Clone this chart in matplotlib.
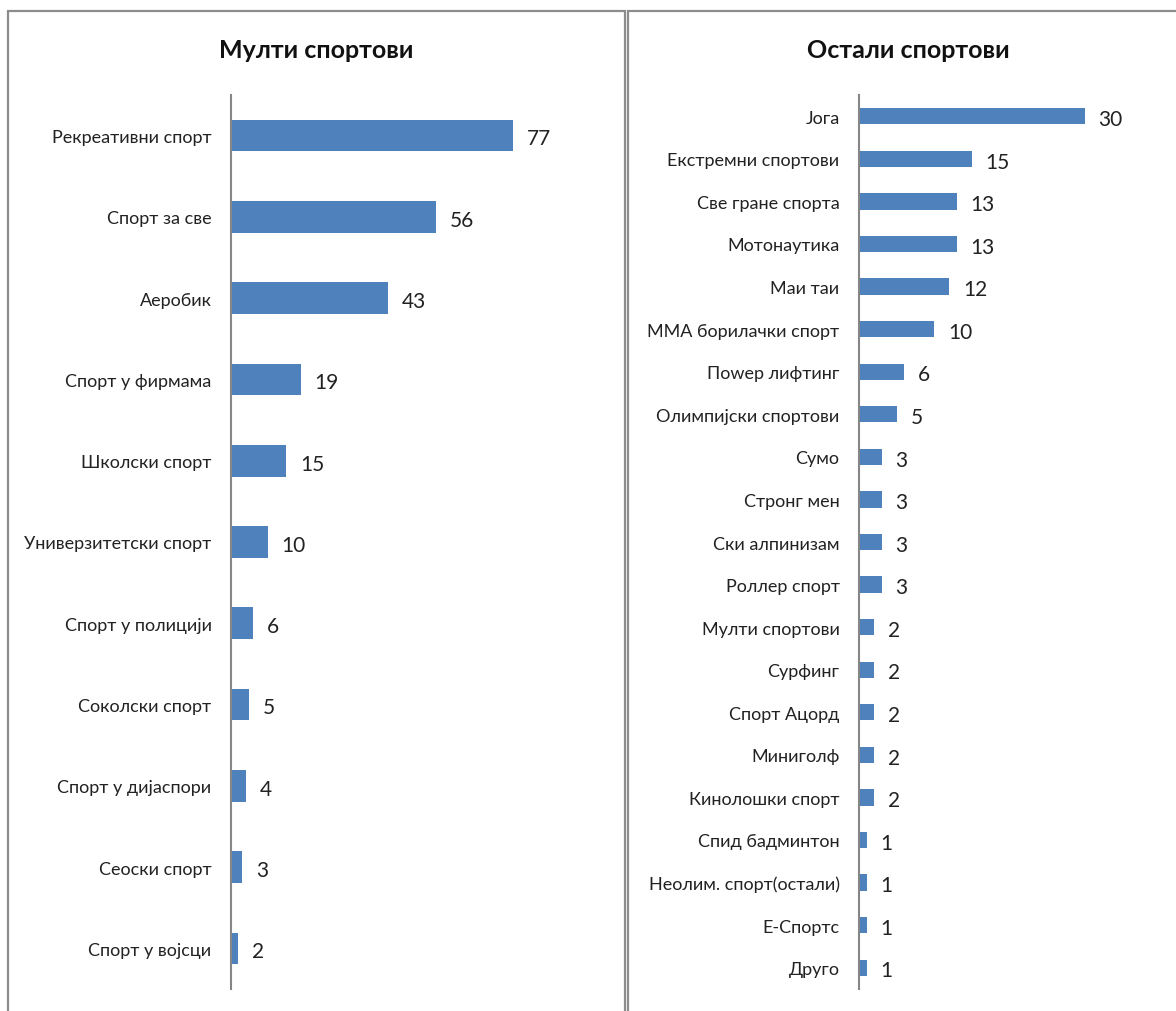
import matplotlib
matplotlib.use('Agg')
import matplotlib.pyplot as plt
from matplotlib.patches import Rectangle

plt.rcParams['font.family'] = ['Lato', 'DejaVu Sans']

# Left panel data
multi_labels = ['Рекреативни спорт', 'Спорт за све', 'Аеробик', 'Спорт у фирмама',
                'Школски спорт', 'Универзитетски спорт', 'Спорт у полицији',
                'Соколски спорт', 'Спорт у дијаспори', 'Сеоски спорт', 'Спорт у војсци']
multi_values = [77, 56, 43, 19, 15, 10, 6, 5, 4, 3, 2]

# Right panel data
other_labels = ['Јога', 'Екстремни спортови', 'Све гране спорта', 'Мотонаутика', 'Маи таи',
                'ММА борилачки спорт', 'Поwер лифтинг', 'Олимпијски спортови', 'Сумо',
                'Стронг мен', 'Ски алпинизам', 'Роллер спорт', 'Мулти спортови', 'Сурфинг',
                'Спорт Ацорд', 'Миниголф', 'Кинолошки спорт', 'Спид бадминтон',
                'Неолим. спорт(остали)', 'Е-Спортс', 'Друго']
other_values = [30, 15, 13, 13, 12, 10, 6, 5, 3, 3, 3, 3, 2, 2, 2, 2, 2, 1, 1, 1, 1]

BAR_COLOR = '#4F81BD'
AXIS_COLOR = '#868686'
W, H = 1176, 1012

fig = plt.figure(figsize=(W / 100, H / 100), dpi=100)

# panel borders
fig.patches.append(Rectangle((8 / W, -0.05), (625 - 8) / W, 1.05 - 12 / H,
                             transform=fig.transFigure, fill=False,
                             edgecolor='#8c8c8c', lw=1.6))
fig.patches.append(Rectangle((628 / W, -0.05), 0.5, 1.05 - 12 / H,
                             transform=fig.transFigure, fill=False,
                             edgecolor='#8c8c8c', lw=1.6))


def draw_panel(rect, labels, values, xmax, bar_h, title, title_x):
    ax = fig.add_axes(rect)
    y = list(range(len(values)))
    ax.barh(y, values, height=bar_h, color=BAR_COLOR)
    ax.set_ylim(len(values) - 0.5, -0.5)
    ax.set_xlim(0, xmax)
    ax.set_yticks(y)
    ax.set_yticklabels(labels, fontsize=13, color='#222222')
    ax.tick_params(axis='y', length=0, pad=14)
    ax.set_xticks([])
    for s in ['top', 'right', 'bottom']:
        ax.spines[s].set_visible(False)
    ax.spines['left'].set_color(AXIS_COLOR)
    ax.spines['left'].set_linewidth(1.5)
    for yi, v in zip(y, values):
        ax.annotate(str(v), (v, yi), xytext=(10, -2), textcoords='offset points',
                    va='center', ha='left', fontsize=15, color='#222222')
    fig.text(title_x / W, 1 - 50 / H, title, ha='center', va='center',
             fontsize=18, fontweight='bold', color='#111111')
    return ax


draw_panel([231 / W, 22 / H, (597 - 231) / W, 894 / H], multi_labels, multi_values,
           100, 0.39, 'Мулти спортови', 316)
draw_panel([859 / W, 22 / H, (1160 - 859) / W, 894 / H], other_labels, other_values,
           40, 0.38, 'Остали спортови', 908)

fig.savefig('out.png', dpi=100)
